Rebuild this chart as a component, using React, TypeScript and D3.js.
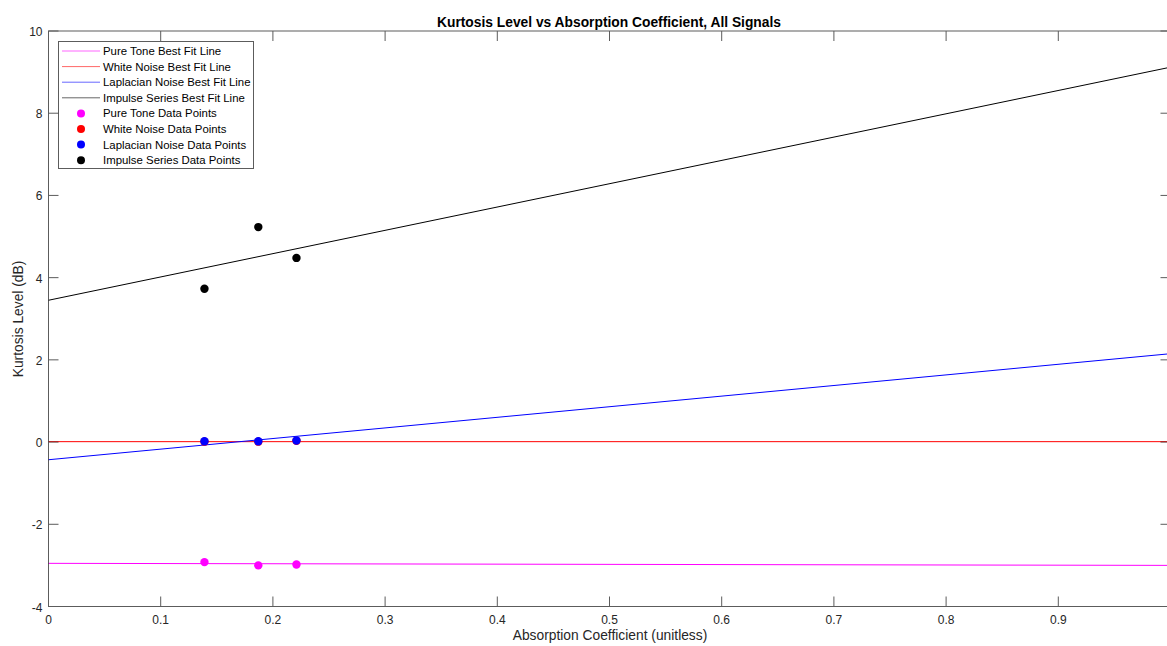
import React, { useEffect, useRef } from 'react';
import * as d3 from 'd3';

// series
const signals = ['Pure Tone', 'White Noise', 'Laplacian Noise', 'Impulse Series'];
const colors = ['#ff00ff', '#ff0000', '#0000ff', '#000000'];
const absorption = [0.139, 0.187, 0.221];
const pureTone = [-2.92, -3.0, -2.98];
const whiteNoise = [0.01, 0.01, 0.03];
const laplacian = [0.02, 0.02, 0.04];
const impulse = [3.73, 5.23, 4.48];
// best fit lines, evaluated at the ends of the x range
const fitX = [0, 1];
const pureToneFit = [-2.95, -3.0];
const whiteNoiseFit = [0.01, 0.01];
const laplacianFit = [-0.43, 2.15];
const impulseFit = [3.45, 9.12];
const xTicks = [0, 0.1, 0.2, 0.3, 0.4, 0.5, 0.6, 0.7, 0.8, 0.9];
const yTicks = [-4, -2, 0, 2, 4, 6, 8, 10];

const App = () => {
  const ref = useRef<SVGSVGElement>(null);

  useEffect(() => {
    const svg = d3.select(ref.current);
    svg.selectAll('*').remove();
    const font = 'Liberation Sans, Arial, Helvetica, sans-serif';
    const axisColor = '#262626';

    const x = d3.scaleLinear().domain([0, 1]).range([48.5, 1170.5]);
    const y = d3.scaleLinear().domain([-4, 10]).range([606.5, 31]);

    const points = [pureTone, whiteNoise, laplacian, impulse];
    const fits = [pureToneFit, whiteNoiseFit, laplacianFit, impulseFit];

    const line = d3
      .line<number>()
      .x((d, i) => x(fitX[i]))
      .y((d) => y(d));

    // best fit lines
    fits.forEach((f, k) => {
      svg
        .append('path')
        .attr('d', line(f))
        .attr('fill', 'none')
        .attr('stroke', colors[k])
        .attr('stroke-width', 1);
    });

    // data points
    points.forEach((p, k) => {
      svg
        .append('g')
        .selectAll('circle')
        .data(p)
        .enter()
        .append('circle')
        .attr('cx', (d, i) => x(absorption[i]))
        .attr('cy', (d) => y(d))
        .attr('r', 4.2)
        .attr('fill', colors[k]);
    });

    // axes box
    const ax = svg.append('g').attr('stroke', axisColor).attr('stroke-width', 1).attr('opacity', 0.75);
    ax.append('rect')
      .attr('x', x(0))
      .attr('y', y(10))
      .attr('width', x(1) - x(0))
      .attr('height', y(-4) - y(10))
      .attr('fill', 'none');
    const tl = 10;
    xTicks.forEach((t) => {
      ax.append('line').attr('x1', x(t)).attr('x2', x(t)).attr('y1', y(-4)).attr('y2', y(-4) - tl);
      ax.append('line').attr('x1', x(t)).attr('x2', x(t)).attr('y1', y(10)).attr('y2', y(10) + tl);
    });
    yTicks.forEach((t) => {
      ax.append('line').attr('x1', x(0)).attr('x2', x(0) + tl).attr('y1', y(t)).attr('y2', y(t));
      ax.append('line').attr('x1', x(1)).attr('x2', x(1) - tl).attr('y1', y(t)).attr('y2', y(t));
    });

    // tick labels
    svg
      .append('g')
      .selectAll('text')
      .data(xTicks)
      .enter()
      .append('text')
      .attr('x', (d) => x(d))
      .attr('y', y(-4) + 17.5)
      .attr('text-anchor', 'middle')
      .attr('font-family', font)
      .attr('font-size', 12)
      .attr('fill', axisColor)
      .text((d) => d3.format('~g')(d));

    svg
      .append('g')
      .selectAll('text')
      .data(yTicks)
      .enter()
      .append('text')
      .attr('x', x(0) - 6)
      .attr('y', (d) => y(d) + 5)
      .attr('text-anchor', 'end')
      .attr('font-family', font)
      .attr('font-size', 12)
      .attr('fill', axisColor)
      .text((d) => d);

    // title & labels
    svg
      .append('text')
      .attr('x', 609)
      .attr('y', 26.5)
      .attr('text-anchor', 'middle')
      .attr('font-family', font)
      .attr('font-size', 13.8)
      .attr('font-weight', 'bold')
      .attr('fill', '#000')
      .text('Kurtosis Level vs Absorption Coefficient, All Signals');

    svg
      .append('text')
      .attr('x', 610)
      .attr('y', 640)
      .attr('text-anchor', 'middle')
      .attr('font-family', font)
      .attr('font-size', 13.8)
      .attr('fill', axisColor)
      .text('Absorption Coefficient (unitless)');

    svg
      .append('text')
      .attr('transform', 'translate(23,319) rotate(-90)')
      .attr('text-anchor', 'middle')
      .attr('font-family', font)
      .attr('font-size', 13.8)
      .attr('fill', axisColor)
      .text('Kurtosis Level (dB)');

    // legend
    const lg = svg.append('g');
    lg.append('rect')
      .attr('x', 58.5)
      .attr('y', 41.5)
      .attr('width', 195)
      .attr('height', 127)
      .attr('fill', '#fff')
      .attr('stroke', axisColor)
      .attr('stroke-opacity', 0.75);
    const rowY = (i: number) => 51 + i * 15.6;
    signals.forEach((s, k) => {
      lg.append('line')
        .attr('x1', 62)
        .attr('x2', 100)
        .attr('y1', rowY(k))
        .attr('y2', rowY(k))
        .attr('stroke', colors[k])
        .attr('stroke-opacity', 0.6);
      lg.append('text')
        .attr('x', 103)
        .attr('y', rowY(k) + 4)
        .attr('font-family', font)
        .attr('font-size', 11.4)
        .attr('fill', '#000')
        .text(s + ' Best Fit Line');
    });
    signals.forEach((s, k) => {
      lg.append('circle')
        .attr('cx', 81)
        .attr('cy', rowY(k + 4))
        .attr('r', 4)
        .attr('fill', colors[k]);
      lg.append('text')
        .attr('x', 103)
        .attr('y', rowY(k + 4) + 4)
        .attr('font-family', font)
        .attr('font-size', 11.4)
        .attr('fill', '#000')
        .text(s + ' Data Points');
    });
  }, []);

  return (
    <svg
      ref={ref}
      width={1167}
      height={646}
      style={{ position: 'absolute', left: 0, top: 0, background: '#fff' }}
    ></svg>
  );
};

export default App;
